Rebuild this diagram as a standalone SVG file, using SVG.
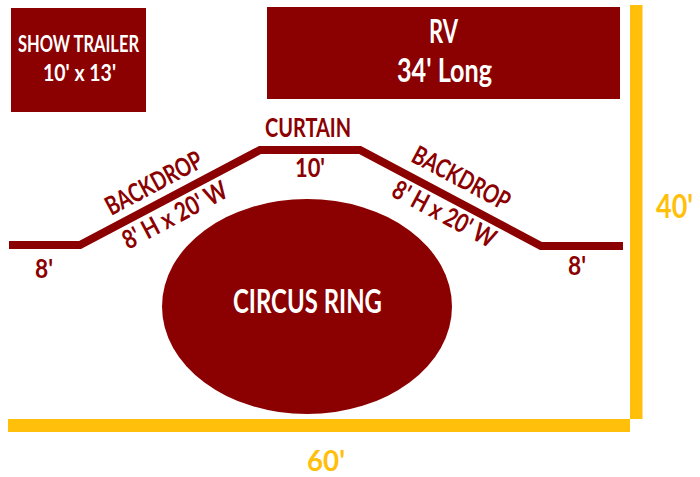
<svg xmlns="http://www.w3.org/2000/svg" width="700" height="477" viewBox="0 0 700 477">
<style>
text{font-family:Lato,"Liberation Sans",sans-serif;font-weight:700;text-anchor:middle}
.w{fill:#fff}.r{fill:#8b0000}.o{fill:#ffbf0a}
.t{font-size:23px}.d{font-size:26px}.m{font-size:27px}.l{font-size:32px}.b{font-size:28px}
</style>
<rect width="700" height="477" fill="#fff"/>
<g id="connectors">
<path d="M9 245H80L260 150H360L541 246H623" fill="none" stroke="#8b0000" stroke-width="8"/>
<rect class="o" x="630" y="5" width="12.500" height="414"/>
<rect class="o" x="8" y="419" width="622" height="13"/>
</g>
<g id="show-trailer"><rect class="r" x="11" y="8" width="135" height="104"/>
<text class="w t" x="78.500" y="52" textLength="121" lengthAdjust="spacingAndGlyphs">SHOW TRAILER</text>
<text class="w t" x="79.500" y="81" textLength="73" lengthAdjust="spacingAndGlyphs">10' x 13'</text></g>
<g id="rv"><rect class="r" x="267" y="7" width="353" height="92"/>
<text class="w l" x="443.500" y="43" textLength="29" lengthAdjust="spacingAndGlyphs">RV</text>
<text class="w l" x="444.500" y="82" textLength="95" lengthAdjust="spacingAndGlyphs">34' Long</text></g>
<g id="curtain"><text class="r m" x="308" y="137" textLength="86" lengthAdjust="spacingAndGlyphs">CURTAIN</text>
<text class="r m" x="310" y="177" textLength="30" lengthAdjust="spacingAndGlyphs">10'</text></g>
<g id="backdrop-left"><text class="r d" transform="translate(158 191) rotate(-28)" textLength="106" lengthAdjust="spacingAndGlyphs">BACKDROP</text>
<text class="r d" transform="translate(179 223) rotate(-28)" textLength="115" lengthAdjust="spacingAndGlyphs">8' H x 20' W</text></g>
<g id="backdrop-right"><text class="r d" transform="translate(457 186) rotate(28)" textLength="107" lengthAdjust="spacingAndGlyphs">BACKDROP</text>
<text class="r d" transform="translate(440 222) rotate(28)" textLength="113" lengthAdjust="spacingAndGlyphs">8' H x 20' W</text></g>
<g id="label-8-left"><text class="r m" x="44" y="278" textLength="18" lengthAdjust="spacingAndGlyphs">8'</text></g>
<g id="label-8-right"><text class="r m" x="577" y="275" textLength="18" lengthAdjust="spacingAndGlyphs">8'</text></g>
<g id="circus-ring"><ellipse class="r" cx="307" cy="306.500" rx="145" ry="107.500"/>
<text class="w l" x="307.500" y="313" textLength="149" lengthAdjust="spacingAndGlyphs">CIRCUS RING</text></g>
<g id="label-40"><text class="o l" x="674.500" y="218" textLength="37" lengthAdjust="spacingAndGlyphs">40'</text></g>
<g id="label-60"><text class="o b" x="326" y="471" textLength="38" lengthAdjust="spacingAndGlyphs">60'</text></g>
</svg>
